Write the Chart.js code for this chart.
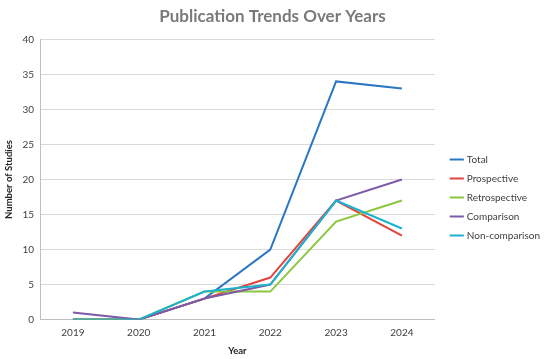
<!DOCTYPE html>
<html>
<head>
<meta charset="utf-8">
<script src="https://cdn.jsdelivr.net/npm/chart.js@4/dist/chart.umd.min.js"></script>
<style>
  html, body { margin: 0; padding: 0; background: #fff; }
  #wrap { width: 550px; height: 359px; position: relative; }
</style>
</head>
<body>
<div id="wrap"><canvas id="trendChart"></canvas></div>
<script>
const years = ['2019', '2020', '2021', '2022', '2023', '2024'];
const total = [0, 0, 3, 10, 34, 33];
const prospective = [0, 0, 3, 6, 17, 12];
const retrospective = [0, 0, 4, 4, 14, 17];
const comparison = [1, 0, 3, 5, 17, 20];
const nonComparison = [0, 0, 4, 5, 17, 13];

const FONT = 'Lato, "Open Sans", sans-serif';

// later series sit on top of earlier ones, like the original
function series(label, data, color, order) {
    return {
        label: label,
        data: data,
        order: order,
        borderColor: color,
        backgroundColor: color,
        borderWidth: 2,
        pointRadius: 0,
        tension: 0,
        fill: false
    };
}

// nudge the legend away from the plot and a little lower
const legendShift = {
    id: 'legendShift',
    afterLayout(chart) {
        const lg = chart.legend;
        lg.left += 8;
        lg.right += 8;
        lg.top += 18;
        lg.bottom += 18;
    }
};

const ctx = document.getElementById('trendChart').getContext('2d');

new Chart(ctx, {
    type: 'line',
    data: {
        labels: years,
        datasets: [
            series('Total', total, '#2a78c2', 5),
            series('Prospective', prospective, '#e2453f', 4),
            series('Retrospective', retrospective, '#8cc63e', 3),
            series('Comparison', comparison, '#7d5ba6', 2),
            series('Non-comparison', nonComparison, '#1ab2cf', 1)
        ]
    },
    plugins: [legendShift],
    options: {
        responsive: true,
        maintainAspectRatio: false,
        animation: false,
        layout: { padding: { left: 3, right: 8, top: 2, bottom: 2 } },
        plugins: {
            title: {
                display: true,
                text: 'Publication Trends Over Years',
                color: '#7a7a7a',
                font: { family: FONT, size: 17, weight: 'bold' },
                padding: { top: 4, bottom: 13 }
            },
            legend: {
                position: 'right',
                reverse: true,
                labels: {
                    usePointStyle: true,
                    pointStyle: 'line',
                    boxWidth: 21,
                    padding: 9,
                    color: '#404040',
                    font: { family: FONT, size: 10 }
                }
            },
            tooltip: { enabled: false }
        },
        scales: {
            x: {
                offset: true,
                grid: { display: false, drawTicks: false },
                border: { color: '#bfbfbf' },
                ticks: { color: '#404040', padding: 7, font: { family: FONT, size: 10 } },
                title: {
                    display: true,
                    text: 'Year',
                    color: '#222',
                    font: { family: FONT, size: 9.5, weight: 'bold' },
                    padding: { top: 0, bottom: 0 }
                }
            },
            y: {
                min: 0,
                max: 40,
                ticks: { stepSize: 5, color: '#404040', padding: 6, font: { family: FONT, size: 10 } },
                grid: { color: '#d9d9d9', drawTicks: false },
                border: { color: '#bfbfbf' },
                title: {
                    display: true,
                    text: 'Number of Studies',
                    color: '#222',
                    font: { family: FONT, size: 9.5, weight: 'bold' },
                    padding: { top: 0, bottom: 2 }
                }
            }
        }
    }
});
</script>
</body>
</html>
